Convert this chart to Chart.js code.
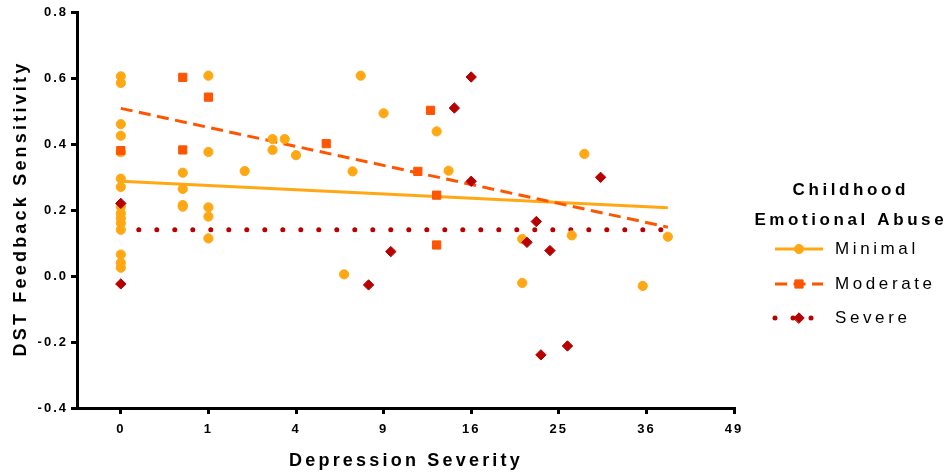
<!DOCTYPE html>
<html>
<head>
<meta charset="utf-8">
<title>DST Feedback Sensitivity vs Depression Severity</title>
<script src="https://cdn.jsdelivr.net/npm/chart.js@4.4.0/dist/chart.umd.min.js"></script>
<style>
    html, body { margin: 0; padding: 0; background: #fff; }
</style>
</head>
<body>
<canvas id="severityChart" width="950" height="473"></canvas>
<script>
// Depression severity (raw score) and DST feedback sensitivity, per abuse group
var minimalX = [0, 0, 0, 0, 0, 0, 0, 0, 0, 0, 0, 0, 0, 0, 0,
                0.5, 0.5, 0.5, 0.5,
                1, 1, 1, 1, 1,
                2, 3, 3, 3.5, 4, 6.5, 7, 7.5, 9, 13, 14, 21, 21, 26.5, 28, 35.5, 39];
var minimalY = [0.605, 0.585, 0.46, 0.425, 0.375, 0.295, 0.27, 0.21, 0.19, 0.175, 0.16, 0.14, 0.065, 0.04, 0.025,
                0.313, 0.264, 0.215, 0.21,
                0.607, 0.376, 0.208, 0.18, 0.114,
                0.318, 0.415, 0.382, 0.415, 0.366, 0.005, 0.317, 0.607, 0.493, 0.438, 0.319, 0.112, -0.021, 0.123, 0.37, -0.03, 0.119];

var moderateX = [0, 0.5, 0.5, 1, 5.5, 11.5, 12.5, 13, 13];
var moderateY = [0.38, 0.602, 0.382, 0.542, 0.401, 0.317, 0.502, 0.245, 0.094];

var severeX = [0, 0, 8, 9.5, 14.5, 16, 16, 21.5, 22.5, 23, 24, 26, 30];
var severeY = [0.22, -0.024, -0.027, 0.074, 0.509, 0.603, 0.287, 0.102, 0.165, -0.239, 0.077, -0.212, 0.299];

// Fitted lines (end points)
var fitX = [0, 39];
var minimalFitY = [0.287, 0.207];
var moderateFitY = [0.508, 0.148];
var severeFitY = [0.14, 0.14];

// Axis ticks (x axis is square-root scaled)
var xTicks = [0, 1, 4, 9, 16, 25, 36, 49];
var yTicks = [-0.4, -0.2, 0.0, 0.2, 0.4, 0.6, 0.8];

var groupNames = ['Minimal', 'Moderate', 'Severe'];
var legendTitle = ['Childhood', 'Emotional Abuse'];
var xTitle = 'Depression Severity';
var yTitle = 'DST Feedback Sensitivity';

// Colours
var minimalColor = '#FFA814';
var moderateColor = '#FF5500';
var severeColor = '#B80000';

var FONT = '"Liberation Sans", Arial, Helvetica, sans-serif';

var toPoints = function (xs, ys) {
    var pts = [];
    for (var i = 0; i < xs.length; i++) {
        pts.push({ x: Math.sqrt(xs[i]), y: ys[i] });
    }
    return pts;
};

var styles = [
    { color: minimalColor, style: 'circle', radius: 4.6, width: 3, dash: [], cap: 'butt' },
    { color: moderateColor, style: 'rect', radius: 5.8, width: 3, dash: [12, 6.5], cap: 'butt' },
    { color: severeColor, style: 'rectRot', radius: 5.2, width: 5, dash: [0, 18], cap: 'round' }
];

var pointSet = function (i, xs, ys, order) {
    var s = styles[i];
    return {
        label: groupNames[i],
        data: toPoints(xs, ys),
        showLine: false,
        pointStyle: s.style,
        pointRadius: s.radius,
        pointHoverRadius: s.radius,
        pointBackgroundColor: s.color,
        pointBorderColor: s.color,
        pointBorderWidth: 1,
        order: order
    };
};

var lineSet = function (i, ys, order) {
    var s = styles[i];
    return {
        label: groupNames[i] + ' fit',
        data: toPoints(fitX, ys),
        showLine: true,
        borderColor: s.color,
        borderWidth: s.width,
        borderDash: s.dash,
        borderCapStyle: s.cap,
        pointRadius: 0,
        order: order
    };
};

// Titles and legend drawn on the canvas
var decorations = {
    id: 'decorations',
    beforeDraw: function (chart) {
        chart.ctx.letterSpacing = '2px';
    },
    afterDraw: function (chart) {
        var ctx = chart.ctx;
        var area = chart.chartArea;
        ctx.save();
        ctx.fillStyle = '#000';
        ctx.textBaseline = 'middle';

        // axis titles
        ctx.font = 'bold 18px ' + FONT;
        ctx.letterSpacing = '3.2px';
        ctx.textAlign = 'center';
        ctx.fillText(xTitle, (area.left + area.right) / 2 + 0.5, 461);
        ctx.save();
        ctx.translate(21, (area.top + area.bottom) / 2);
        ctx.rotate(-Math.PI / 2);
        ctx.fillText(yTitle, 1.5, 0);
        ctx.restore();

        // legend title
        var cx = area.right + 115;
        ctx.font = 'bold 17px ' + FONT;
        ctx.letterSpacing = '3.6px';
        ctx.fillText(legendTitle[0], cx + 1.8, 190);
        ctx.fillText(legendTitle[1], cx + 1.8, 220);

        // legend items: sample line, marker, label
        var sx0 = area.right + 41, sx1 = area.right + 89, mx = area.right + 65;
        var rows = [249, 284, 318];
        ctx.font = '17px ' + FONT;
        ctx.textAlign = 'left';
        for (var i = 0; i < groupNames.length; i++) {
            var s = styles[i];
            var y = rows[i];
            ctx.save();
            ctx.strokeStyle = s.color;
            ctx.fillStyle = s.color;
            ctx.lineWidth = s.width;
            ctx.setLineDash(s.dash);
            ctx.lineCap = s.cap;
            ctx.beginPath();
            ctx.moveTo(sx0, y);
            ctx.lineTo(sx1, y);
            ctx.stroke();
            ctx.setLineDash([]);
            ctx.lineWidth = 1;
            Chart.helpers.drawPoint(ctx, {
                pointStyle: s.style, radius: s.radius, rotation: 0, borderWidth: 1
            }, mx, y);
            ctx.restore();
            ctx.fillText(groupNames[i], area.right + 101, y);
        }
        ctx.restore();
        ctx.letterSpacing = '0px';
    }
};

var canvas = document.getElementById('severityChart');
var ctx = canvas.getContext('2d');

var chart = new Chart(ctx, {
    type: 'scatter',
    data: {
        datasets: [
            pointSet(2, severeX, severeY, 0),
            pointSet(1, moderateX, moderateY, 1),
            pointSet(0, minimalX, minimalY, 2),
            lineSet(2, severeFitY, 3),
            lineSet(1, moderateFitY, 4),
            lineSet(0, minimalFitY, 5)
        ]
    },
    options: {
        responsive: false,
        animation: false,
        events: [],
        layout: { padding: { top: 12, right: 216, bottom: 0, left: 0 } },
        plugins: {
            legend: { display: false },
            tooltip: { enabled: false }
        },
        scales: {
            x: {
                type: 'linear',
                min: -0.5,
                max: 7,
                afterBuildTicks: function (scale) {
                    scale.ticks = xTicks.map(function (v) { return { value: Math.sqrt(v) }; });
                },
                afterFit: function (scale) { scale.height = 65; },
                ticks: {
                    callback: function (value, index) { return String(xTicks[index]); },
                    color: '#000',
                    font: { family: FONT, size: 13, weight: 'bold' },
                    padding: 8,
                    maxRotation: 0,
                    autoSkip: false
                },
                grid: { drawOnChartArea: false, drawTicks: true, tickLength: 6, color: '#000', lineWidth: 3 },
                border: { color: '#000', width: 3 }
            },
            y: {
                type: 'linear',
                min: -0.4,
                max: 0.8,
                afterBuildTicks: function (scale) {
                    scale.ticks = yTicks.map(function (v) { return { value: v }; });
                },
                afterFit: function (scale) { scale.width = 77; },
                ticks: {
                    callback: function (value) { return value.toFixed(1); },
                    color: '#000',
                    font: { family: FONT, size: 13, weight: 'bold' },
                    padding: 3,
                    autoSkip: false
                },
                grid: { drawOnChartArea: false, drawTicks: true, tickLength: 6, color: '#000', lineWidth: 3 },
                border: { color: '#000', width: 3 }
            }
        }
    },
    plugins: [decorations]
});
</script>
</body>
</html>
